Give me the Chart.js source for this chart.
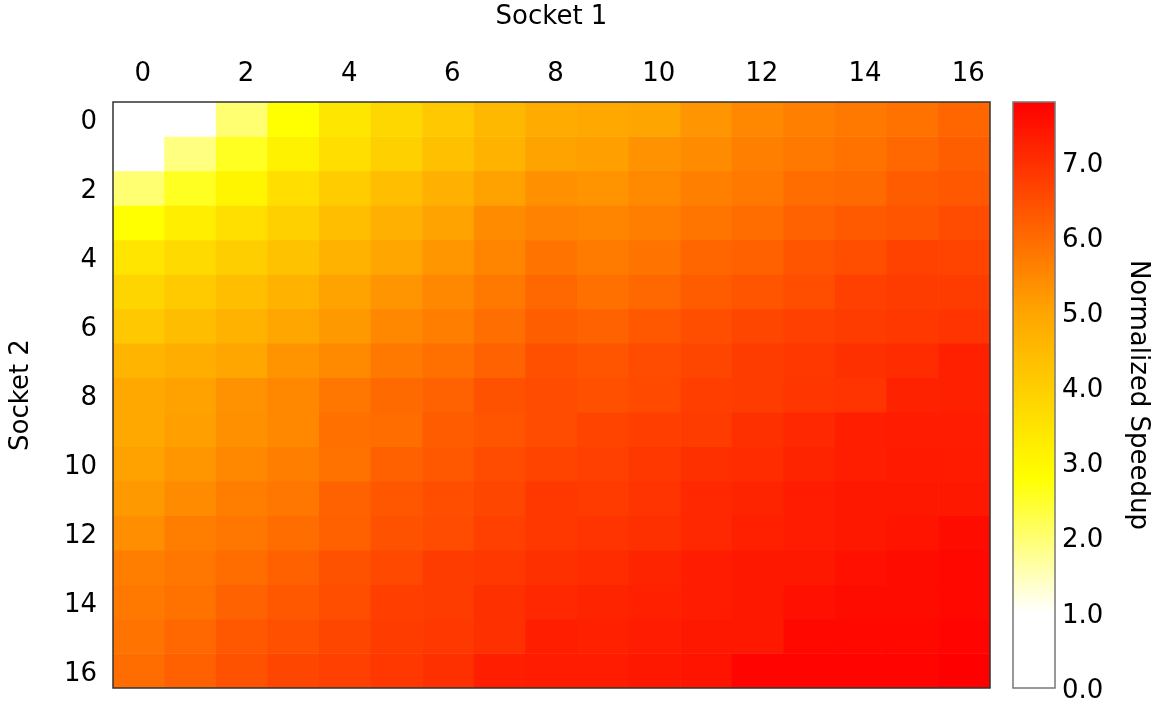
<!DOCTYPE html>
<html>
<head>
<meta charset="utf-8">
<title>Normalized Speedup</title>
<script src="https://cdn.jsdelivr.net/npm/chart.js@4/dist/chart.umd.min.js"></script>
<style>
  html, body { margin: 0; padding: 0; background: #fff; overflow: hidden; }
  canvas { display: block; }
</style>
</head>
<body>
<canvas id="grafico" width="1158" height="704"></canvas>
<script>
// Hilos en cada socket (columnas = Socket 1, filas = Socket 2)
const socket1Labels = ['0', '1', '2', '3', '4', '5', '6', '7', '8', '9', '10', '11', '12', '13', '14', '15', '16'];
const socket2Labels = [0, 1, 2, 3, 4, 5, 6, 7, 8, 9, 10, 11, 12, 13, 14, 15, 16];

// Speedup normalizado, una fila por valor de Socket 2
const speedup = [
  [0, 1.0, 2.0, 2.8, 3.41, 3.78, 4.14, 4.54, 4.85, 4.9, 5.0, 5.27, 5.49, 5.63, 5.76, 5.87, 6.07],
  [1.0, 1.9, 2.57, 3.12, 3.61, 3.95, 4.34, 4.68, 5.03, 5.08, 5.32, 5.42, 5.63, 5.76, 5.87, 6.04, 6.2],
  [2.0, 2.57, 3.04, 3.61, 4.05, 4.39, 4.73, 5.05, 5.35, 5.3, 5.46, 5.63, 5.76, 5.97, 6.0, 6.24, 6.31],
  [2.8, 3.22, 3.58, 3.95, 4.39, 4.73, 5.03, 5.42, 5.6, 5.55, 5.66, 5.82, 5.97, 6.14, 6.27, 6.37, 6.51],
  [3.44, 3.7, 4.0, 4.29, 4.68, 4.98, 5.25, 5.54, 5.83, 5.72, 5.83, 6.07, 6.17, 6.37, 6.48, 6.68, 6.65],
  [3.83, 4.1, 4.39, 4.68, 5.03, 5.27, 5.49, 5.76, 6.05, 5.9, 6.04, 6.24, 6.37, 6.48, 6.71, 6.78, 6.78],
  [4.14, 4.41, 4.68, 4.98, 5.2, 5.49, 5.66, 5.93, 6.2, 6.14, 6.31, 6.48, 6.61, 6.71, 6.78, 6.85, 6.92],
  [4.63, 4.78, 4.98, 5.29, 5.46, 5.76, 5.9, 6.14, 6.45, 6.35, 6.51, 6.61, 6.78, 6.85, 6.99, 7.05, 7.26],
  [4.93, 5.05, 5.32, 5.49, 5.8, 6.0, 6.14, 6.41, 6.51, 6.45, 6.55, 6.75, 6.78, 6.88, 6.92, 7.22, 7.26],
  [4.93, 5.08, 5.36, 5.49, 5.9, 5.97, 6.24, 6.37, 6.51, 6.65, 6.75, 6.78, 6.99, 7.12, 7.29, 7.32, 7.32],
  [5.05, 5.25, 5.49, 5.66, 5.87, 6.17, 6.31, 6.51, 6.65, 6.71, 6.85, 6.99, 7.05, 7.19, 7.29, 7.36, 7.34],
  [5.2, 5.42, 5.66, 5.8, 6.14, 6.34, 6.48, 6.61, 6.85, 6.8, 6.92, 7.12, 7.19, 7.32, 7.39, 7.39, 7.39],
  [5.39, 5.66, 5.8, 5.97, 6.17, 6.41, 6.51, 6.71, 6.85, 6.92, 6.99, 7.12, 7.26, 7.32, 7.39, 7.46, 7.6],
  [5.66, 5.8, 5.97, 6.17, 6.41, 6.58, 6.78, 6.85, 6.99, 7.05, 7.19, 7.32, 7.39, 7.39, 7.53, 7.6, 7.66],
  [5.76, 5.87, 6.14, 6.31, 6.48, 6.75, 6.78, 6.99, 7.12, 7.19, 7.26, 7.32, 7.39, 7.53, 7.6, 7.6, 7.66],
  [5.83, 6.04, 6.31, 6.44, 6.61, 6.78, 6.85, 6.99, 7.29, 7.26, 7.32, 7.39, 7.39, 7.66, 7.66, 7.66, 7.73],
  [5.97, 6.17, 6.41, 6.61, 6.71, 6.85, 6.99, 7.29, 7.32, 7.32, 7.39, 7.46, 7.73, 7.73, 7.73, 7.73, 7.8]
];

// Barra de color
const colorbarTicks = [0, 1, 2, 3, 4, 5, 6, 7];
const colorbarMin = 0;
const colorbarMax = 7.8;

// Paleta: blanco -> amarillo -> naranja -> rojo
const paleta = [
  [0.0, [255, 255, 255]],
  [1.0, [255, 255, 255]],
  [2.8, [255, 255, 0]],
  [5.0, [255, 165, 0]],
  [7.8, [255, 0, 0]]
];

function rgb(c) {
  return 'rgb(' + c.map(Math.round).join(',') + ')';
}

function colorPara(v) {
  if (v <= paleta[0][0]) return rgb(paleta[0][1]);
  for (let i = 1; i < paleta.length; i++) {
    const [v0, c0] = paleta[i - 1];
    const [v1, c1] = paleta[i];
    if (v <= v1) {
      const t = (v - v0) / (v1 - v0);
      return rgb(c0.map((x, k) => x + (c1[k] - x) * t));
    }
  }
  return rgb(paleta[paleta.length - 1][1]);
}

const fuente = { family: "'DejaVu Sans', sans-serif", size: 26 };
Chart.defaults.color = '#000';

// Una serie de barras flotantes por fila del mapa de calor
const datasets = socket2Labels.map((fila, r) => ({
  label: 'Socket 2 = ' + fila,
  data: speedup[r].map(() => [fila - 0.5, fila + 0.5]),
  backgroundColor: speedup[r].map(colorPara),
  borderWidth: 0,
  grouped: false,
  barPercentage: 1,
  categoryPercentage: 1
}));

// Marco del área y barra de color a la derecha
const marcoYBarra = {
  id: 'marcoYBarra',
  afterDraw(chart) {
    const { ctx, chartArea: a, scales } = chart;
    const cb = scales.cb;
    const x0 = a.right + 23;
    const ancho = 42;
    const yTop = cb.getPixelForValue(colorbarMax);
    const yBot = cb.getPixelForValue(colorbarMin);

    ctx.save();
    const grad = ctx.createLinearGradient(0, yBot, 0, yTop);
    paleta.forEach(([v, c]) => grad.addColorStop((v - colorbarMin) / (colorbarMax - colorbarMin), rgb(c)));
    ctx.fillStyle = grad;
    ctx.fillRect(x0, yTop, ancho, yBot - yTop);
    ctx.strokeStyle = '#777';
    ctx.lineWidth = 1.5;
    ctx.strokeRect(x0, yTop, ancho, yBot - yTop);

    ctx.strokeStyle = '#333';
    ctx.lineWidth = 1.5;
    ctx.strokeRect(a.left, a.top, a.right - a.left, a.bottom - a.top);
    ctx.restore();
  }
};

// Los ejes verticales no deben reservar espacio extra arriba/abajo
function sinRelleno(scale) {
  scale.paddingTop = 0;
  scale.paddingBottom = 0;
}

new Chart(document.getElementById('grafico'), {
  type: 'bar',
  data: { labels: socket1Labels, datasets: datasets },
  options: {
    responsive: false,
    animation: false,
    events: [],
    layout: { padding: { top: 0, left: 0, right: 0, bottom: 16 } },
    plugins: {
      legend: { display: false },
      tooltip: { enabled: false }
    },
    scales: {
      x: {
        type: 'category',
        position: 'top',
        grid: { display: false, drawTicks: false },
        border: { display: false },
        ticks: {
          font: fuente,
          padding: 12,
          labelOffset: 4,
          autoSkip: false,
          maxRotation: 0,
          callback: function (val, i) {
            return i % 2 === 0 ? this.getLabelForValue(val) : '';
          }
        },
        title: { display: true, text: 'Socket 1', font: fuente, padding: { top: 2, bottom: 0 } },
        afterFit: (scale) => {
          scale.height = 102;
          scale.paddingLeft = 0;
          scale.paddingRight = 0;
        }
      },
      y: {
        type: 'linear',
        position: 'left',
        reverse: true,
        min: -0.5,
        max: 16.5,
        grid: { display: false, drawTicks: false },
        border: { display: false },
        ticks: { font: fuente, padding: 16, labelOffset: 3 },
        afterBuildTicks: (scale) => {
          scale.ticks = socket2Labels.filter(v => v % 2 === 0).map(v => ({ value: v }));
        },
        title: { display: true, text: 'Socket 2', font: fuente, padding: { top: 6, bottom: 0 } },
        afterFit: (scale) => {
          scale.width = 113;
          sinRelleno(scale);
        }
      },
      cb: {
        type: 'linear',
        position: 'right',
        min: colorbarMin,
        max: colorbarMax,
        grid: { display: false, drawTicks: false },
        border: { display: false },
        ticks: {
          font: fuente,
          padding: 72,
          labelOffset: 3,
          callback: (v) => v.toFixed(1)
        },
        afterBuildTicks: (scale) => {
          scale.ticks = colorbarTicks.map(v => ({ value: v }));
        },
        title: { display: true, text: 'Normalized Speedup', font: fuente, padding: { top: 5, bottom: 0 } },
        afterFit: (scale) => {
          scale.width = 168;
          sinRelleno(scale);
        }
      }
    }
  },
  plugins: [marcoYBarra]
});
</script>
</body>
</html>
